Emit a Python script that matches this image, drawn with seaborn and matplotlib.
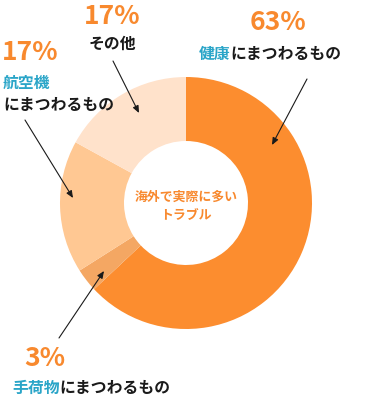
import matplotlib
matplotlib.use("Agg")
import matplotlib.pyplot as plt
import seaborn as sns

# ---- data ----
categories = ["健康", "手荷物", "航空機", "その他"]
values = [63, 3, 17, 17]
pct_labels = ["63%", "3%", "17%", "17%"]
suffix = "にまつわるもの"
center_title = ["海外で実際に多い", "トラブル"]

sns.set_theme(style="white")
plt.rcParams['font.family'] = ['Noto Sans CJK JP', 'DejaVu Sans']

palette = sns.color_palette(["#FC8D2F", "#F4A763", "#FFC893", "#FFE2CB"])
ORANGE = "#F8892E"
BLUE = "#2AA5C8"
BLACK = "#1a1a1a"

W, H = 372, 410
fig = plt.figure(figsize=(W / 100, H / 100), dpi=100)
ax = fig.add_axes([0, 0, 1, 1])

cx, cy, R, ring = 186, 204, 126, 64
ax.pie(values, colors=palette, startangle=-90, counterclock=True,
       center=(cx, cy), radius=R,
       wedgeprops=dict(width=ring, edgecolor="none", linewidth=0))
ax.set_xlim(0, W)
ax.set_ylim(H, 0)
ax.set_aspect("equal")
ax.axis("off")

# center title
ax.text(cx, 197, center_title[0], ha="center", va="center", color=ORANGE,
        fontsize=9.3, fontweight="bold")
ax.text(cx, 215, center_title[1], ha="center", va="center", color=ORANGE,
        fontsize=9.3, fontweight="bold")

pct_kw = dict(color=ORANGE, fontsize=19, fontweight="bold", va="center")
LFS = 11.4
lab_kw = dict(fontsize=LFS, fontweight="bold", va="center")
arrow = dict(arrowstyle="-|>,head_length=0.35,head_width=0.15", color=BLACK, lw=0.8,
             shrinkA=0, shrinkB=0)


def chained(x, y, blue, black):
    t = ax.text(x, y, blue, ha="left", color=BLUE, **lab_kw)
    ax.annotate(black, xy=(1, 0.5), xycoords=t, ha="left", color=BLACK, **lab_kw)


# 63% 健康
ax.text(278, 22, pct_labels[0], ha="center", **pct_kw)
chained(199, 54, categories[0], suffix)
ax.annotate("", xy=(272, 146), xytext=(307, 80), arrowprops=arrow)

# 17% その他
ax.text(112, 17, pct_labels[3], ha="center", **pct_kw)
ax.text(112, 44, categories[3], ha="center", color=BLACK, **lab_kw)
ax.annotate("", xy=(139, 114), xytext=(113, 62), arrowprops=arrow)

# 17% 航空機
ax.text(2, 52, pct_labels[2], ha="left", **pct_kw)
ax.text(3, 83, categories[2], ha="left", color=BLUE, **lab_kw)
ax.text(3, 105, suffix, ha="left", color=BLACK, **lab_kw)
ax.annotate("", xy=(73, 199), xytext=(25, 121), arrowprops=arrow)

# 3% 手荷物
ax.text(45, 359, pct_labels[1], ha="center", **pct_kw)
chained(12, 388, categories[1], suffix)
ax.annotate("", xy=(104, 272), xytext=(59, 339), arrowprops=arrow)

fig.savefig("out.png", dpi=100, facecolor="white")
